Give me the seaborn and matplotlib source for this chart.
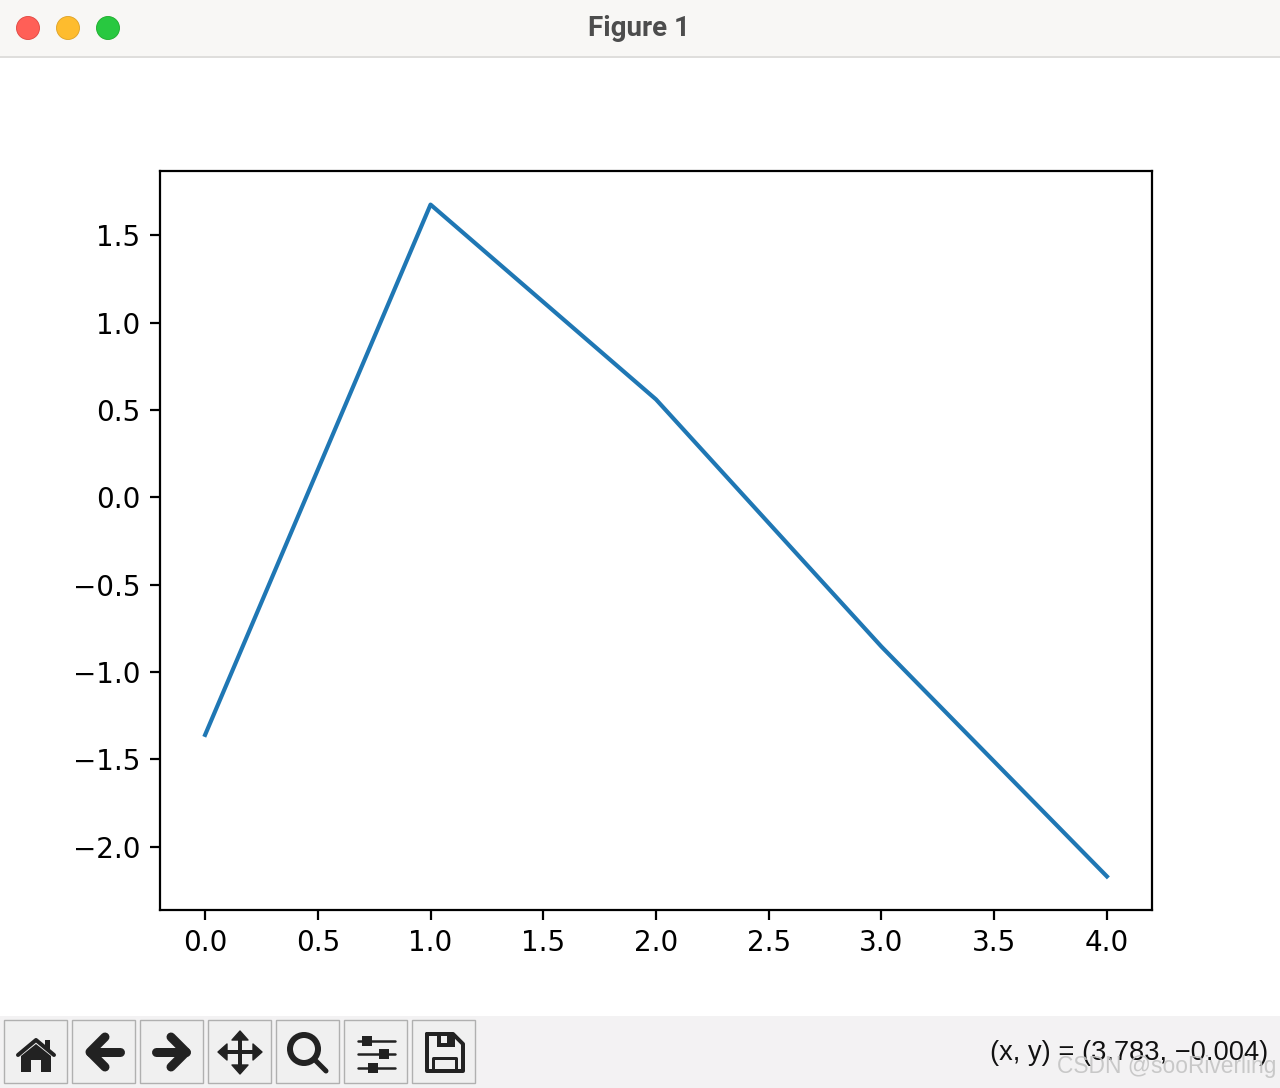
import matplotlib
matplotlib.use("Agg")
import matplotlib.pyplot as plt
from matplotlib.patches import Rectangle, Circle, Polygon
import seaborn as sns

x_values = [0, 1, 2, 3, 4]
y_values = [-1.36, 1.675, 0.56, -0.855, -2.17]

button_lefts = [4, 72, 140, 208, 276, 344, 412]
light_colors = ["#ff5f57", "#febc2e", "#28c840"]
light_edges = ["#e0443e", "#dea123", "#1aab29"]
light_centers = [28, 68, 108]

DARK = "#222222"


def draw_stroke(ax, xs, ys, width_px, color=DARK):
    # width is given in screen pixels, dpi is 200
    ax.plot(xs, ys, color=color, lw=width_px * 72 / 200,
            solid_capstyle="round", solid_joinstyle="round")


def draw_window(ax):
    ax.set_xlim(0, 1280)
    ax.set_ylim(1088, 0)
    ax.axis("off")

    # title bar
    ax.add_patch(Rectangle((0, 0), 1280, 56, fc="#f8f7f5", ec="none"))
    ax.plot([0, 1280], [56.5, 56.5], color="#d9d8d6", lw=0.6)
    for cx, fc, ec in zip(light_centers, light_colors, light_edges):
        ax.add_patch(Circle((cx, 28), 11.5, fc=fc, ec=ec, lw=0.3))
    ax.text(639, 28, "Figure 1", ha="center", va="center", fontsize=10,
            fontweight="bold", family="Roboto", color="#4d4d4d")

    # toolbar
    ax.add_patch(Rectangle((0, 1016), 1280, 72, fc="#f3f2f3", ec="none"))
    for left in button_lefts:
        ax.add_patch(Rectangle((left, 1020), 63, 63, fc="#f0f0f0", ec="#b0b0b0", lw=0.5))

    # home
    ax.add_patch(Polygon([(21, 1056), (36, 1044), (51, 1056), (51, 1072), (41, 1072),
                          (41, 1060), (31, 1060), (31, 1072), (21, 1072)], fc=DARK, ec="none"))
    ax.add_patch(Rectangle((45, 1040), 5, 9, fc=DARK, ec="none"))
    draw_stroke(ax, [18, 36, 54], [1055, 1040, 1055], 4)

    # back and forward
    draw_stroke(ax, [90, 120], [1052, 1052], 9)
    draw_stroke(ax, [105, 90, 105], [1037, 1052, 1067], 9)
    draw_stroke(ax, [156, 186], [1052, 1052], 9)
    draw_stroke(ax, [171, 186, 171], [1037, 1052, 1067], 9)

    # move
    draw_stroke(ax, [240, 240], [1038, 1066], 4)
    draw_stroke(ax, [226, 254], [1052, 1052], 4)
    for tri in ([(240, 1031), (232, 1040), (248, 1040)], [(240, 1074), (232, 1065), (248, 1065)],
                [(218, 1052), (227, 1044), (227, 1060)], [(262, 1052), (253, 1044), (253, 1060)]):
        ax.add_patch(Polygon(tri, fc=DARK, ec=DARK, lw=0.5, joinstyle="round"))

    # zoom
    ax.add_patch(Circle((304, 1049), 14, fc="none", ec=DARK, lw=6 * 72 / 200))
    draw_stroke(ax, [316, 326], [1061, 1071], 5)

    # sliders
    for y, knob in zip([1041, 1054, 1068], [367, 384, 373]):
        draw_stroke(ax, [358, 395], [y, y], 2.5)
        ax.add_patch(Rectangle((knob - 5, y - 5), 10, 10, fc=DARK, ec="none"))

    # save
    draw_stroke(ax, [427, 453, 463, 463, 427, 427], [1034, 1034, 1044, 1071, 1071, 1034], 4)
    draw_stroke(ax, [433, 433, 456, 456], [1071, 1058, 1058, 1071], 3)
    ax.add_patch(Polygon([(437, 1034), (455, 1034), (455, 1047), (437, 1047)], fc=DARK, ec="none"))
    ax.add_patch(Rectangle((441, 1035), 6, 8, fc="#f0f0f0", ec="none"))

    # coordinate readout and watermark, they overlap in the original too
    ax.text(1268, 1053, "(x, y) = (3.783, \u22120.004)", ha="right", va="center",
            fontsize=9.8, family="Liberation Sans", color="#111111")
    ax.text(1276, 1067, "CSDN @sooRiverling", ha="right", va="center",
            fontsize=8.2, family="Liberation Sans", color="#c4c4c4", alpha=0.9)


def plot_line():
    fig = plt.figure(figsize=(6.4, 5.44), dpi=200)

    ui = fig.add_axes([0, 0, 1, 1])
    draw_window(ui)

    # same pixel box as the reference: 160..1152 across, 171..910 down
    ax = fig.add_axes([160 / 1280, 1 - 910 / 1088, 992 / 1280, 739 / 1088])
    sns.lineplot(x=x_values, y=y_values, color="#1f77b4", linewidth=1.5, ax=ax)

    fig.savefig("out.png", dpi=200)


if __name__ == "__main__":
    plot_line()
